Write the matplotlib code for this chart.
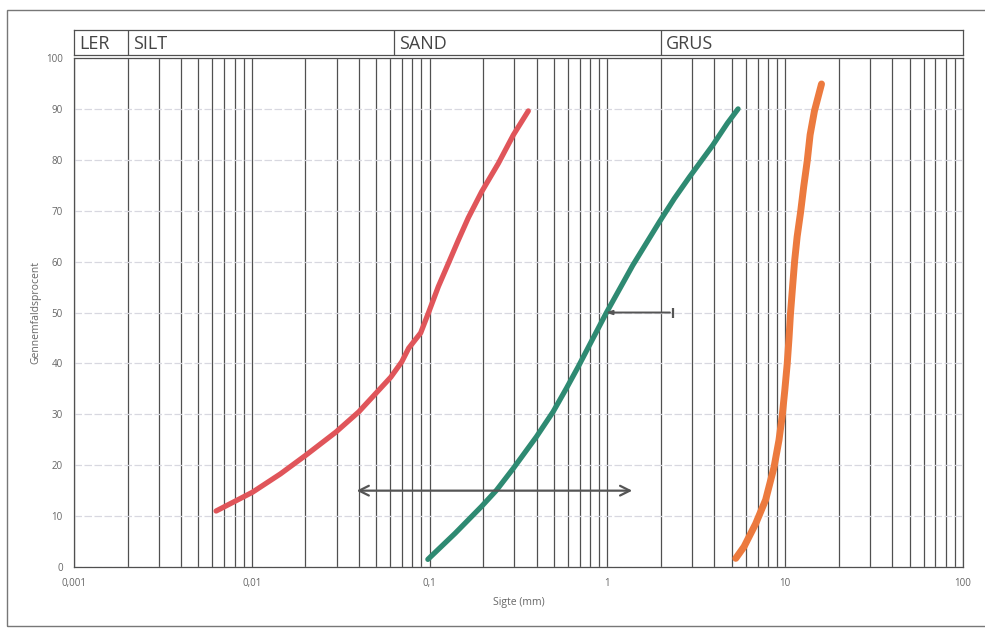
import matplotlib.pyplot as plt
from matplotlib.ticker import LogLocator, NullFormatter
from matplotlib.patches import Rectangle

# Sieve curves (grain size in mm, passing %).
red_x = [0.0063, 0.0101, 0.0145, 0.0202, 0.0297, 0.040, 0.0605, 0.0697, 0.0763, 0.0891, 0.0987,
         0.112, 0.1277, 0.145, 0.165, 0.196, 0.2436, 0.296, 0.359]
red_y = [11.0, 14.7, 18.3, 22.0, 26.5, 30.5, 37.3, 40.3, 43.0, 46.0, 50.0,
         55.1, 59.7, 64.2, 68.6, 73.7, 79.3, 84.9, 89.6]

green_x = [0.0978, 0.139, 0.196, 0.238, 0.296, 0.399, 0.495, 0.588, 0.684, 0.829, 0.985,
           1.39, 1.96, 2.38, 2.89, 3.90, 4.73, 5.43]
green_y = [1.5, 6.6, 11.9, 15.1, 19.4, 25.6, 30.5, 35.1, 39.3, 44.9, 49.9,
           59.3, 67.8, 72.4, 76.6, 82.8, 87.2, 90.0]

orange_x = [5.27, 5.87, 6.82, 7.76, 8.65, 9.22, 9.62, 9.95, 10.26, 10.5, 10.7, 11.0, 11.3,
            11.67, 12.2, 12.7, 13.3, 13.8, 14.6, 16.0]
orange_y = [1.7, 4.0, 8.5, 13.2, 19.6, 24.9, 29.7, 34.8, 39.9, 44.9, 49.7, 55.1, 60.2,
            64.9, 69.7, 74.7, 79.8, 84.9, 89.6, 94.9]

# Soil classes (lower bound in mm) for the header band.
class_names = ["LER", "SILT", "SAND", "GRUS"]
class_bounds = [0.001, 0.002, 0.063, 2.0, 100.0]

# Arrows drawn on the chart.
span_arrow = (0.0375, 1.43, 15)
d50_arrow = (2.33, 0.944, 50)

x_ticks = [0.001, 0.01, 0.1, 1, 10, 100]
x_ticklabels = ["0,001", "0,01", "0,1", "1", "10", "100"]
y_ticks = list(range(0, 101, 10))

plt.rcParams['font.family'] = ['Open Sans', 'DejaVu Sans']
grid_col = "#505050"
text_col = "#666666"

fig = plt.figure(figsize=(9.85, 6.3), dpi=100)
fig.patches.append(Rectangle((0.007, 0.0065), 0.995, 0.978, transform=fig.transFigure,
                             fill=False, edgecolor="#777777", linewidth=1.0))

ax = fig.add_axes([0.0751, 0.1, 0.9026, 0.8079])
ax.set_xscale("log")
ax.set_xlim(0.001, 100)
ax.set_ylim(0, 100)

ax.xaxis.set_minor_locator(LogLocator(base=10, subs=range(2, 10)))
ax.xaxis.set_minor_formatter(NullFormatter())
ax.grid(True, which="both", axis="x", color=grid_col, linewidth=0.9)
ax.set_yticks(y_ticks)
ax.grid(True, which="major", axis="y", color="#d8d8e0", linewidth=0.9, linestyle=(0, (6, 2)))
ax.set_axisbelow(True)
ax.set_xticks(x_ticks)
ax.set_xticklabels(x_ticklabels)
ax.tick_params(which="both", length=0, labelsize=7, labelcolor=text_col, pad=8)
for s in ax.spines.values():
    s.set_color(grid_col)
    s.set_linewidth(0.9)

ax.plot(red_x, red_y, color="#e0555a", linewidth=3.8, solid_capstyle="round", solid_joinstyle="round")
ax.plot(green_x, green_y, color="#2e8a72", linewidth=3.8, solid_capstyle="round", solid_joinstyle="round")
ax.plot(orange_x, orange_y, color="#ec7a3e", linewidth=5, solid_capstyle="round", solid_joinstyle="round")

ax.annotate("", xy=(span_arrow[0], span_arrow[2]), xytext=(span_arrow[1], span_arrow[2]),
            arrowprops=dict(arrowstyle="<->,head_length=0.7,head_width=0.35", color="#555555", lw=1.6))
ax.annotate("", xy=(d50_arrow[1], d50_arrow[2]), xytext=(d50_arrow[0], d50_arrow[2]),
            arrowprops=dict(arrowstyle="-|>,head_length=0.35,head_width=0.12", color="#555555", lw=1.4))
ax.plot([d50_arrow[0]], [d50_arrow[2]], marker="|", markersize=7, color="#555555", mew=1.6)

ax.set_xlabel("Sigte (mm)", fontsize=7.5, color=text_col, labelpad=6)
ax.set_ylabel("Gennemfaldsprocent", fontsize=7.5, color=text_col, labelpad=3)

# Header band with soil classes.
hx = fig.add_axes([0.0751, 0.9127, 0.9026, 0.0397])
hx.set_xscale("log")
hx.set_xlim(0.001, 100)
hx.set_ylim(0, 1)
hx.set_xticks([])
hx.set_yticks([])
hx.minorticks_off()
for s in hx.spines.values():
    s.set_color(grid_col)
    s.set_linewidth(0.9)
for name, lo in zip(class_names, class_bounds[:-1]):
    if lo > class_bounds[0]:
        hx.axvline(lo, color=grid_col, linewidth=0.9)
    hx.text(lo * 1.07, 0.45, name, fontsize=13, color="#444444", va="center", ha="left")

fig.savefig("out.png", dpi=100)
